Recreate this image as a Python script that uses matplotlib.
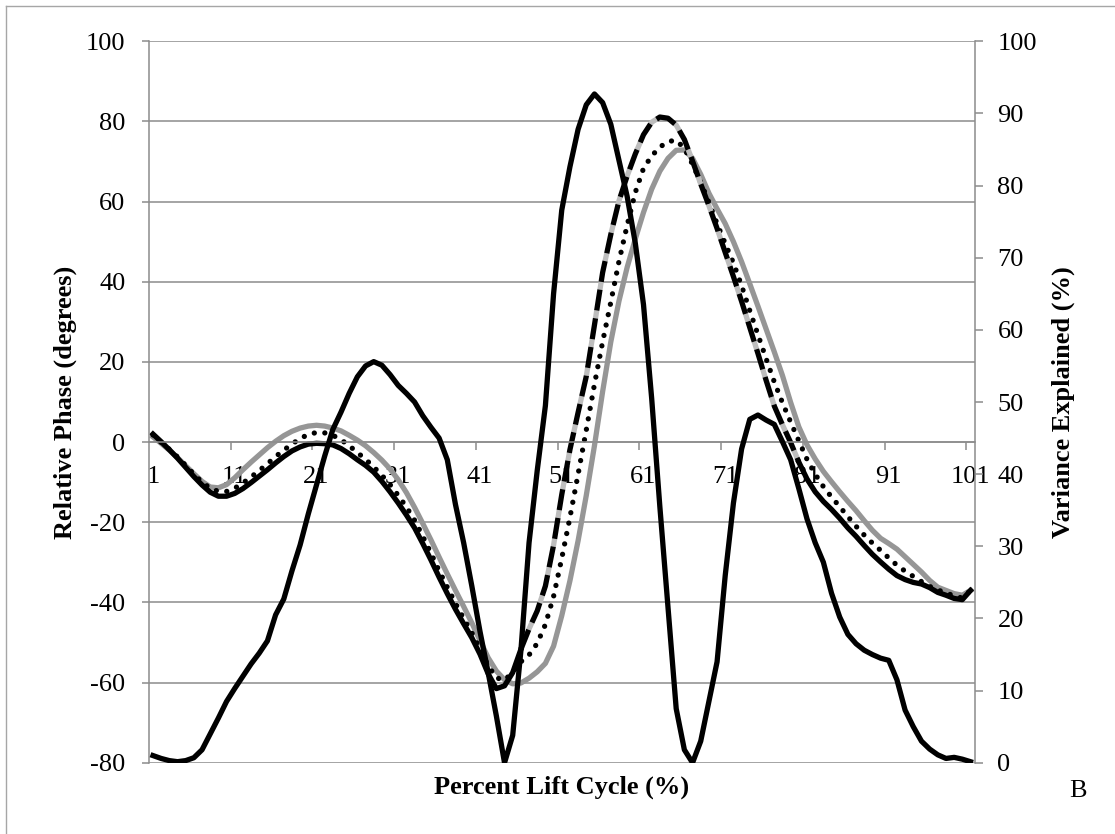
import numpy as np
import matplotlib
matplotlib.use('Agg')
import matplotlib.pyplot as plt
from matplotlib.lines import Line2D

plt.rcParams['font.family'] = ['Liberation Serif', 'DejaVu Serif']
plt.rcParams['font.size'] = 19
plt.rcParams['axes.unicode_minus'] = False

# percent of the lift cycle, 1..101 (category axis)
cycle = np.arange(1, 102)

# relative phase (degrees), left axis
phase_black = [
    2.0, 0.1, -1.9, -4.0, -6.3, -8.6, -10.7, -12.5, -13.5, -13.5,
    -12.8, -11.6, -10.1, -8.5, -6.9, -5.2, -3.6, -2.2, -1.2, -0.5,
    -0.3, -0.4, -0.7, -1.6, -2.9, -4.4, -5.8, -7.5, -9.8, -12.4,
    -15.2, -18.2, -21.4, -25.3, -29.4, -33.7, -37.8, -41.7, -45.3, -48.8,
    -52.9, -57.8, -61.5, -60.8, -57.5, -51.7, -46.6, -42.1, -35.9, -25.7,
    -13.1, -1.9, 7.4, 16.4, 29.2, 42.3, 51.8, 60.2, 66.4, 71.9,
    76.7, 79.8, 81.1, 80.8, 79.1, 75.5, 70.1, 64.4, 59.0, 53.3,
    47.3, 41.3, 35.1, 28.6, 22.1, 15.4, 9.0, 4.3, -0.1, -5.0,
    -9.2, -12.4, -14.8, -16.8, -19.0, -21.4, -23.5, -25.8, -28.0, -29.9,
    -31.7, -33.3, -34.3, -35.0, -35.4, -36.3, -37.5, -38.2, -39.0, -39.3,
    -37.0,
]
phase_dotted = [
    1.8, -0.1, -1.8, -3.7, -5.8, -8.0, -10.0, -11.5, -12.3, -12.3,
    -11.5, -10.2, -8.7, -7.1, -5.4, -3.6, -2.0, -0.5, 0.9, 1.9,
    2.4, 2.3, 1.7, 0.6, -0.9, -2.6, -4.3, -6.2, -8.3, -10.6,
    -13.3, -16.2, -19.5, -23.5, -27.7, -32.1, -36.2, -40.2, -44.0, -47.6,
    -51.6, -55.8, -58.8, -59.4, -57.4, -54.8, -53.1, -50.2, -45.5, -38.5,
    -29.0, -18.8, -8.0, 3.0, 14.4, 25.0, 34.9, 45.1, 54.1, 62.3,
    68.3, 71.4, 73.6, 75.0, 75.3, 73.3, 69.3, 64.8, 59.8, 54.5,
    49.5, 44.7, 39.0, 32.8, 26.8, 20.8, 15.0, 9.8, 5.0, 0.3,
    -4.3, -8.0, -11.1, -13.7, -16.1, -18.6, -21.0, -23.2, -25.2, -27.0,
    -28.9, -30.7, -32.2, -33.5, -34.8, -36.0, -36.9, -37.6, -38.4, -38.9,
    -37.0,
]
phase_gray = [
    1.3, -0.3, -2.0, -3.9, -5.9, -7.9, -9.8, -11.2, -11.4, -10.6,
    -8.9, -6.9, -5.0, -3.2, -1.4, 0.2, 1.6, 2.7, 3.5, 4.0,
    4.2, 4.0, 3.5, 2.8, 1.7, 0.5, -0.9, -2.6, -4.5, -6.7,
    -9.4, -12.6, -16.3, -20.3, -24.4, -28.7, -32.9, -37.0, -41.0, -45.1,
    -49.5, -53.8, -57.1, -59.3, -60.3, -60.1, -58.9, -57.3, -55.2, -50.9,
    -43.3, -34.6, -24.6, -13.3, -0.9, 12.6, 25.0, 35.2, 43.6, 50.7,
    57.3, 63.1, 67.6, 70.8, 72.8, 72.9, 70.8, 66.8, 62.1, 58.2,
    54.5, 50.0, 45.0, 39.5, 33.9, 28.2, 22.5, 16.6, 9.9, 3.8,
    -0.7, -4.2, -7.3, -9.9, -12.4, -14.8, -17.1, -19.6, -22.0, -24.0,
    -25.3, -26.7, -28.6, -30.5, -32.4, -34.5, -36.2, -37.0, -37.8, -38.2,
    -37.0,
]

# variance explained (%), right axis
variance = [
    1.0, 0.6, 0.3, 0.15, 0.3, 0.7, 1.8, 4.0, 6.2, 8.5,
    10.3, 12.0, 13.7, 15.2, 16.9, 20.5, 22.7, 26.6, 30.2, 34.5,
    38.5, 42.5, 46.2, 48.6, 51.2, 53.5, 55.0, 55.6, 55.1, 53.8,
    52.3, 51.2, 50.0, 48.1, 46.5, 45.0, 42.0, 35.8, 30.5, 24.5,
    18.2, 12.5, 6.5, 0.0, 3.8, 15.5, 30.5, 40.5, 49.5, 65.0,
    76.6, 82.6, 87.8, 91.2, 92.7, 91.5, 88.5, 83.5, 78.5, 72.0,
    63.5, 50.5, 35.5, 21.5, 7.5, 1.8, 0.0, 3.0, 8.5, 14.0,
    26.0, 36.0, 43.5, 47.6, 48.2, 47.5, 46.9, 44.5, 42.0, 38.0,
    33.8, 30.5, 27.8, 23.5, 20.2, 17.8, 16.5, 15.6, 15.0, 14.5,
    14.2, 11.5, 7.3, 5.0, 3.0, 1.9, 1.1, 0.6, 0.75, 0.5,
    0.15,
]

# category labels sit between the tick marks
label_pos = list(range(1, 102, 10))
tick_pos = [c + 0.5 for c in range(10, 101, 10)]
left_ticks = list(range(-80, 101, 20))
right_ticks = list(range(0, 101, 10))

grid = '#8c8c8c'

fig = plt.figure(figsize=(11.15, 8.34), dpi=100)
ax = fig.add_axes([0.13354, 0.0854, 0.74054, 0.8651])
ax2 = ax.twinx()

# black phase line is dashed only through the middle of the cycle
phase_black = np.array(phase_black)
solid_part = np.where((cycle <= 46) | (cycle >= 80), phase_black, np.nan)
dash_part = np.where((cycle >= 46) & (cycle <= 80), phase_black, np.nan)

ax.plot(cycle, phase_gray, color='#969696', lw=3.8)
ax.plot(cycle, phase_dotted, color='black', lw=3.8,
        linestyle=(0, (0.01, 2.0)), dash_capstyle='round')
ax.plot(cycle, dash_part, color='black', lw=3.8, gapcolor='#bdbdbd',
        linestyle=(0, (4, 1.5)), dash_capstyle='butt')
ax.plot(cycle, solid_part, color='black', lw=3.8)
ax2.plot(cycle, variance, color='black', lw=3.8)

ax.set_xlim(0.5, 101.5)
ax.set_ylim(-80, 100)
ax.set_xticks(tick_pos)
ax.set_xticklabels([])
ax.set_xticks(label_pos, minor=True)
ax.set_xticklabels([str(c) for c in label_pos], minor=True)
ax.set_yticks(left_ticks)
ax.set_axisbelow(True)
ax.grid(axis='y', color=grid, lw=1.1)
ax.spines['bottom'].set_position(('data', 0))
ax.spines['top'].set_visible(False)
ax.spines['right'].set_visible(False)
for s in ['left', 'bottom']:
    ax.spines[s].set_color(grid)
    ax.spines[s].set_linewidth(1.1)
ax.tick_params(axis='x', which='major', direction='out', length=5.4, width=1.1, color=grid)
ax.tick_params(axis='x', which='minor', length=0, pad=17)
ax.tick_params(axis='y', direction='out', length=5.4, width=1.1, color=grid, pad=11.5)

ax2.set_ylim(0, 100)
ax2.set_yticks(right_ticks)
for s in ['top', 'bottom', 'left']:
    ax2.spines[s].set_visible(False)
ax2.spines['right'].set_color(grid)
ax2.spines['right'].set_linewidth(1.1)
ax2.tick_params(axis='y', direction='out', length=5.4, width=1.1, color=grid, pad=11)

ax.set_xlabel('Percent Lift Cycle (%)', fontweight='bold')
ax.xaxis.set_label_coords(0.5, -0.0335)
ax.xaxis.label.set_va('center')
ax.set_ylabel('Relative Phase (degrees)', fontweight='bold')
ax.yaxis.set_label_coords(-0.1009, 0.5)
ax.yaxis.label.set_va('center')
ax2.set_ylabel('Variance Explained (%)', fontweight='bold')
ax2.yaxis.set_label_coords(1.1078, 0.5)
ax2.yaxis.label.set_va('center')

fig.text(0.9668, 0.0516, 'B', ha='center', va='center')

# chart area border (top and left edges)
fig.lines.append(Line2D([6 / 1115, 1], [1 - 6 / 834, 1 - 6 / 834],
                        transform=fig.transFigure, color='#a6a6a6', lw=1))
fig.lines.append(Line2D([6 / 1115, 6 / 1115], [0, 1 - 6 / 834],
                        transform=fig.transFigure, color='#a6a6a6', lw=1))

fig.savefig('out.png', dpi=100)
